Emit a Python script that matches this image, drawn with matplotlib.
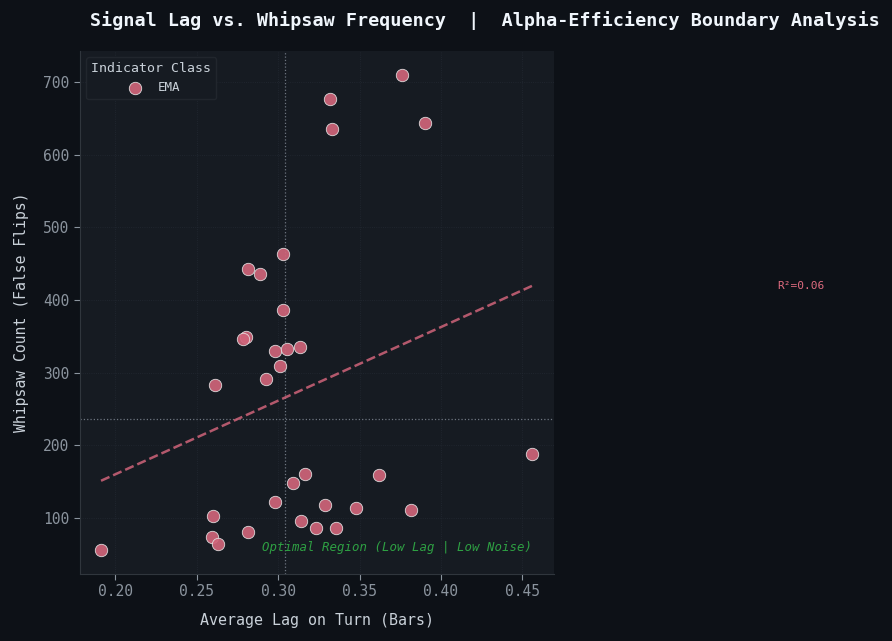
import numpy as np
import matplotlib
matplotlib.use("Agg")
import matplotlib.pyplot as plt

plt.rcParams['font.family'] = ['DejaVu Sans Mono', 'DejaVu Sans']

lag = [0.1914, 0.2601, 0.2595, 0.2632, 0.2816, 0.2613, 0.2982, 0.3092, 0.3166, 0.3141,
       0.3233, 0.3288, 0.3356, 0.3479, 0.3620, 0.3816, 0.4558, 0.2816, 0.2890, 0.3031,
       0.3031, 0.2804, 0.2785, 0.2982, 0.3055, 0.3135, 0.3012, 0.2926, 0.3319, 0.3331,
       0.3761, 0.3902]
whipsaw = [56, 103, 74, 64, 81, 283, 122, 148, 161, 96,
           86, 118, 86, 114, 159, 111, 188, 443, 436, 463,
           386, 349, 346, 330, 333, 335, 309, 291, 677, 635,
           710, 644]
lag_threshold = 0.3043
whipsaw_threshold = 236
xticks = [0.20, 0.25, 0.30, 0.35, 0.40, 0.45]

x = np.array(lag)
y = np.array(whipsaw)

fig = plt.figure(figsize=(8.92, 6.41), dpi=100, facecolor='#0d1117')
ax = fig.add_axes([0.0897, 0.1045, 0.5313, 0.816])
ax.set_facecolor('#161b22')

ax.grid(True, color='#262c36', linestyle=':', linewidth=0.6, alpha=0.8)
ax.set_axisbelow(True)

ax.scatter(x, y, s=80, color='#d0647a', edgecolor='#e6e6e6', linewidth=0.6,
           alpha=0.92, label='EMA', zorder=3)

coef = np.polyfit(x, y, 1)
xs = np.array([x.min(), x.max()])
ax.plot(xs, np.polyval(coef, xs), color='#d0647a', linestyle='--', linewidth=1.8,
        alpha=0.85, zorder=2)
pred = np.polyval(coef, x)
r2 = 1 - np.sum((y - pred) ** 2) / np.sum((y - y.mean()) ** 2)

ax.axvline(lag_threshold, color='#6e7681', linestyle=':', linewidth=0.9, zorder=1)
ax.axhline(whipsaw_threshold, color='#6e7681', linestyle=':', linewidth=0.9, zorder=1)

ax.set_xlim(0.1785, 0.4693)
ax.set_ylim(22.9, 742.7)
ax.set_xticks(xticks)
ax.set_xticklabels([f'{t:.2f}' for t in xticks])

for s in ['top', 'right']:
    ax.spines[s].set_visible(False)
for s in ['left', 'bottom']:
    ax.spines[s].set_color('#30363d')
ax.tick_params(colors='#8b949e', labelsize=10.5, length=4)
ax.tick_params(axis='both', color='#8b949e')

ax.set_xlabel('Average Lag on Turn (Bars)', color='#c9d1d9', fontsize=10.8, labelpad=10)
ax.set_ylabel('Whipsaw Count (False Flips)', color='#c9d1d9', fontsize=10.6, labelpad=10)

ax.text(0.4558, 60, 'Optimal Region (Low Lag | Low Noise)', color='#2ea043',
        fontsize=8.9, style='italic', ha='right', va='center')

leg = ax.legend(title='Indicator Class', loc='upper left', fontsize=9,
                title_fontsize=9.5, facecolor='#161b22', edgecolor='#21262d',
                framealpha=1.0, labelcolor='#c9d1d9')
leg.get_title().set_color('#c9d1d9')

fig.text(801 / 892, 1 - 286 / 641, f'R²={r2:.2f}', color='#e06c80', fontsize=8,
         ha='center', va='center')

fig.text(485 / 892, 1 - 21 / 641,
         'Signal Lag vs. Whipsaw Frequency  |  Alpha-Efficiency Boundary Analysis',
         color='#f0f6fc', fontsize=13.2, fontweight='bold', ha='center', va='center')

fig.savefig('out.png', dpi=100, facecolor=fig.get_facecolor())
